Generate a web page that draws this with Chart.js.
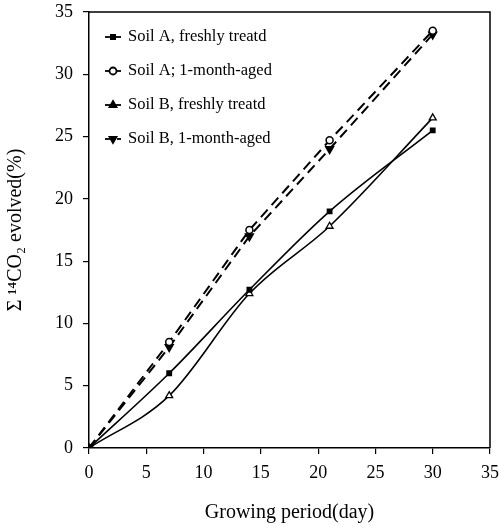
<!DOCTYPE html>
<html>
<head>
<meta charset="utf-8">
<script src="https://cdn.jsdelivr.net/npm/chart.js@4"></script>
<style>
  html, body { margin: 0; padding: 0; background: #fff; }
  #wrap { width: 499px; height: 525px; }
</style>
</head>
<body>
<div id="wrap"><canvas id="co2Chart" width="499" height="525"></canvas></div>
<script>
// days sampled
var days = [0, 7, 14, 21, 30];

// cumulative 14CO2 evolved (%)
var soilAFresh = [0, 6.0, 12.7, 19.0, 25.5];
var soilAAged = [0, 8.5, 17.5, 24.7, 33.5];
var soilBFresh = [0, 4.2, 12.4, 17.8, 26.5];
var soilBAged = [0, 8.1, 17.0, 24.0, 33.2];

var seriesLabels = ['Soil A, freshly treatd', 'Soil A; 1-month-aged', 'Soil B, freshly treatd', 'Soil B, 1-month-aged'];
var tickValues = [0, 5, 10, 15, 20, 25, 30, 35];

var serif = "'Liberation Serif', 'DejaVu Serif', serif";

function toPoints(values) {
    return days.map(function (d, i) { return { x: d, y: values[i] }; });
}

// frame on top/right + legend drawn inside the plot
var framePlugin = {
    id: 'frameAndLegend',
    afterDraw: function (chart) {
        var ctx = chart.ctx;
        var area = chart.chartArea;
        ctx.save();
        ctx.strokeStyle = '#000';
        ctx.lineWidth = 1.5;
        ctx.beginPath();
        ctx.moveTo(area.left, area.top);
        ctx.lineTo(area.right, area.top);
        ctx.lineTo(area.right, area.bottom);
        ctx.stroke();

        // legend rows
        var rowY = [37, 71, 105, 139];
        chart.data.datasets.forEach(function (ds, i) {
            var y = rowY[i];
            ctx.strokeStyle = '#000';
            ctx.lineWidth = 1.8;
            if (ds.borderDash && ds.borderDash.length) {
                ctx.beginPath(); ctx.moveTo(105, y); ctx.lineTo(110, y); ctx.stroke();
                ctx.beginPath(); ctx.moveTo(117, y); ctx.lineTo(121, y); ctx.stroke();
            } else {
                ctx.beginPath(); ctx.moveTo(105, y); ctx.lineTo(121, y); ctx.stroke();
            }
            Chart.helpers.drawPoint(ctx, {
                pointStyle: ds.pointStyle,
                radius: ds.pointRadius,
                rotation: ds.pointRotation || 0
            }, 113, y);
            ctx.fillStyle = ds.legendFill;
            ctx.fill();
            ctx.stroke();
            ctx.fillStyle = '#000';
            ctx.font = '16.5px ' + serif;
            ctx.textBaseline = 'middle';
            ctx.textAlign = 'left';
            ctx.fillText(ds.label, 128, y);
        });
        ctx.restore();
    }
};

var ctx = document.getElementById('co2Chart').getContext('2d');
var mainChart = new Chart(ctx, {
    type: 'scatter',
    data: {
        datasets: [{
            label: seriesLabels[0],
            data: toPoints(soilAFresh),
            showLine: true,
            cubicInterpolationMode: 'monotone',
            borderColor: '#000',
            borderWidth: 1.6,
            pointStyle: 'rect',
            pointRadius: 3,
            pointBackgroundColor: '#000',
            pointBorderColor: '#000',
            legendFill: '#000'
        }, {
            label: seriesLabels[1],
            data: toPoints(soilAAged),
            showLine: true,
            tension: 0,
            borderColor: '#000',
            borderWidth: 2,
            borderDash: [10, 6],
            pointStyle: 'circle',
            pointRadius: 3.5,
            pointBorderWidth: 1.5,
            pointBackgroundColor: '#fff',
            pointBorderColor: '#000',
            legendFill: '#fff'
        }, {
            label: seriesLabels[2],
            data: toPoints(soilBFresh),
            showLine: true,
            cubicInterpolationMode: 'monotone',
            borderColor: '#000',
            borderWidth: 1.6,
            pointStyle: 'triangle',
            pointRadius: 4,
            pointBorderWidth: 1.3,
            pointBackgroundColor: '#fff',
            pointBorderColor: '#000',
            legendFill: '#000'
        }, {
            label: seriesLabels[3],
            data: toPoints(soilBAged),
            showLine: true,
            tension: 0,
            borderColor: '#000',
            borderWidth: 2,
            borderDash: [10, 6],
            pointStyle: 'triangle',
            pointRotation: 180,
            pointRadius: 4,
            pointBackgroundColor: '#000',
            pointBorderColor: '#000',
            legendFill: '#000'
        }]
    },
    options: {
        responsive: false,
        animation: false,
        layout: { padding: { top: 12, right: 9, left: 0, bottom: 0 } },
        plugins: {
            legend: { display: false },
            tooltip: { enabled: false }
        },
        scales: {
            x: {
                type: 'linear',
                min: 0,
                max: 35,
                afterBuildTicks: function (axis) {
                    axis.ticks = tickValues.map(function (v) { return { value: v }; });
                },
                border: { color: '#000', width: 1.5 },
                grid: { drawOnChartArea: false, drawTicks: true, tickLength: 6, color: '#000', lineWidth: 1.2 },
                ticks: { color: '#000', font: { family: serif, size: 18 }, padding: 8, maxRotation: 0 },
                title: {
                    display: true,
                    text: 'Growing period(day)',
                    color: '#000',
                    font: { family: serif, size: 20 },
                    padding: { top: 6, bottom: 0 }
                },
                afterFit: function (axis) {
                    axis.height = 77;
                    axis.paddingLeft = 0;
                    axis.paddingRight = 0;
                }
            },
            y: {
                type: 'linear',
                min: 0,
                max: 35,
                afterBuildTicks: function (axis) {
                    axis.ticks = tickValues.map(function (v) { return { value: v }; });
                },
                border: { color: '#000', width: 1.5 },
                grid: { drawOnChartArea: false, drawTicks: true, tickLength: 6, color: '#000', lineWidth: 1.2 },
                ticks: { color: '#000', font: { family: serif, size: 18 }, padding: 10 },
                title: {
                    display: true,
                    text: 'Σ ¹⁴CO₂ evolved(%)',
                    color: '#000',
                    font: { family: serif, size: 20 },
                    padding: { top: 4, bottom: 10 }
                },
                afterFit: function (axis) {
                    axis.width = 89;
                    axis.paddingTop = 0;
                    axis.paddingBottom = 0;
                }
            }
        }
    },
    plugins: [framePlugin]
});
</script>
</body>
</html>
